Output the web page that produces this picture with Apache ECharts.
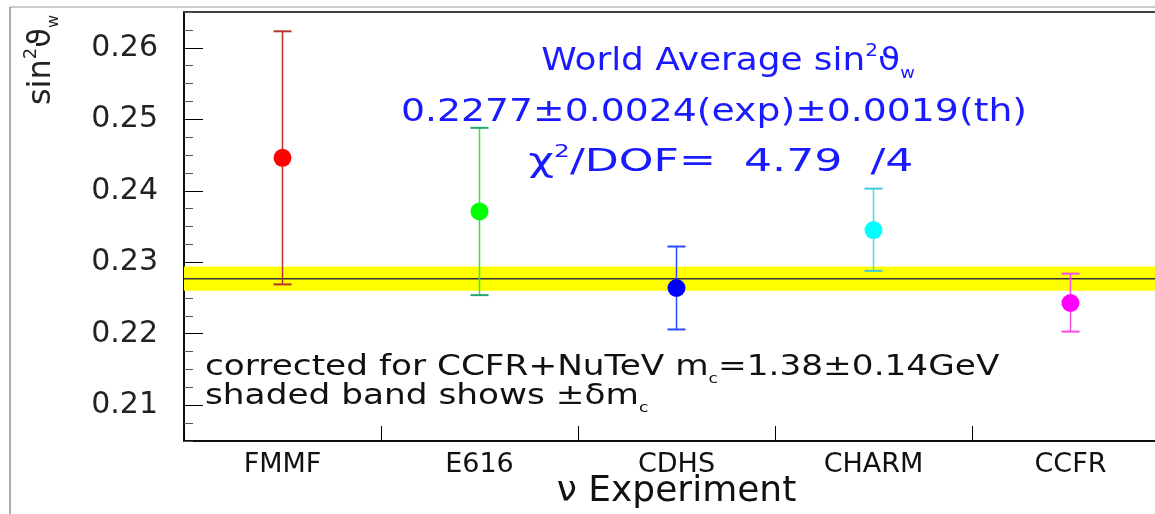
<!DOCTYPE html>
<html>
<head>
<meta charset="utf-8">
<script src="https://cdn.jsdelivr.net/npm/echarts@6/dist/echarts.min.js"></script>
<style>
  html, body { margin: 0; padding: 0; background: #fff; }
  #chart { width: 1155px; height: 514px; }
</style>
</head>
<body>
<div id="chart"></div>
<script>
// Neutrino-scattering measurements of sin^2(theta_W)
const experiments = ['FMMF', 'E616', 'CDHS', 'CHARM', 'CCFR'];
const sin2w   = [0.2446, 0.2371, 0.2264, 0.2345, 0.2243];
const errHigh = [0.0177, 0.0117, 0.0058, 0.0058, 0.0041];
const errLow  = [0.0177, 0.0117, 0.0058, 0.0057, 0.0040];
const worldAverage = 0.2277;
const bandHalfWidth = 0.0017;   // +- delta m_c
const yTickValues = [0.21, 0.22, 0.23, 0.24, 0.25, 0.26];
const yMin = 0.205, yMax = 0.265;

const pointColors = ['#ff0000', '#00ff00', '#0000ff', '#00ffff', '#ff00ff'];
const barColors   = ['#b8322c', '#2ee84a', '#2a48ff', '#3ee0ee', '#ff4ae6'];
const capColors   = ['#b8322c', '#20a878', '#2a48ff', '#3ec8dc', '#ff4ae6'];

const FONT = 'DejaVu Sans';
const BLUE = '#1a1aff';

const errData = experiments.map((e, i) => [i, sin2w[i] - errLow[i], sin2w[i] + errHigh[i]]);
const pointData = experiments.map((e, i) => [i, sin2w[i]]);
const averageData = [[worldAverage, worldAverage - bandHalfWidth, worldAverage + bandHalfWidth]];

function richSet(size, color) {
  return {
    a:   { fontFamily: FONT, fontSize: size, lineHeight: size + 8, fill: color, color: color, verticalAlign: 'middle' },
    sup: { fontFamily: FONT, fontSize: Math.round(size * 0.55), lineHeight: Math.round(size * 0.55), fill: color, color: color, verticalAlign: 'top' },
    sub: { fontFamily: FONT, fontSize: Math.round(size * 0.5), lineHeight: Math.round(size * 0.5), fill: color, color: color, verticalAlign: 'bottom' }
  };
}

const chart = echarts.init(document.getElementById('chart'), null, { renderer: 'canvas' });

chart.setOption({
  backgroundColor: '#fff',
  animation: false,
  grid: {
    left: 184, right: -14, top: 12, bottom: 73,
    show: true, borderColor: '#000', borderWidth: 1.5,
    outerBoundsMode: 'none'
  },
  xAxis: {
    type: 'category',
    data: experiments,
    boundaryGap: true,
    axisLine: { lineStyle: { color: '#000', width: 1.5 } },
    axisTick: { show: true, inside: true, length: 15, alignWithLabel: false, lineStyle: { color: '#000', width: 1 } },
    axisLabel: { fontFamily: FONT, fontSize: 27, color: '#111', margin: 10 },
    splitLine: { show: false },
    name: 'ν Experiment',
    nameLocation: 'middle',
    nameGap: 51,
    nameMoveOverlap: false,
    nameTextStyle: { fontFamily: FONT, fontSize: 36, color: '#111', verticalAlign: 'middle' }
  },
  yAxis: [
    {
      // minor ticks every 0.0025
      type: 'value', min: yMin, max: yMax, interval: 0.0025,
      axisLine: { show: true, lineStyle: { color: '#000', width: 1.5 } },
      axisTick: { show: true, inside: true, length: 9, lineStyle: { color: '#555', width: 1 } },
      axisLabel: { show: false },
      splitLine: { show: false }
    },
    {
      // major ticks and labels
      type: 'value', min: yMin, max: yMax, position: 'left', offset: 0,
      axisLine: { show: false },
      axisTick: { show: true, inside: true, length: 19, customValues: yTickValues, lineStyle: { color: '#000', width: 1 } },
      axisLabel: {
        show: true, customValues: yTickValues, margin: 26,
        fontFamily: FONT, fontSize: 30, color: '#222',
        formatter: v => v.toFixed(2)
      },
      splitLine: { show: false }
    }
  ],
  series: [
    {
      // world average line with its shaded band
      type: 'custom', z: 1, silent: true,
      data: averageData,
      encode: { y: [0, 1, 2] },
      renderItem: function (params, api) {
        const cs = params.coordSys;
        const yMid = api.coord([0, api.value(0)])[1];
        const yLo = api.coord([0, api.value(1)])[1];
        const yHi = api.coord([0, api.value(2)])[1];
        return {
          type: 'group',
          children: [
            { type: 'rect', shape: { x: cs.x, y: yHi, width: cs.width, height: yLo - yHi }, style: { fill: '#ffff00' } },
            { type: 'line', shape: { x1: cs.x, y1: yMid, x2: cs.x + cs.width, y2: yMid }, style: { stroke: '#333', lineWidth: 1.5 } }
          ]
        };
      }
    },
    {
      type: 'custom', z: 3, silent: true,
      data: errData,
      encode: { x: 0, y: [1, 2] },
      renderItem: function (params, api) {
        const i = params.dataIndex;
        const lo = api.coord([api.value(0), api.value(1)]);
        const hi = api.coord([api.value(0), api.value(2)]);
        const hw = 9;
        return {
          type: 'group',
          children: [
            { type: 'line', shape: { x1: hi[0], y1: hi[1], x2: lo[0], y2: lo[1] }, style: { stroke: barColors[i], lineWidth: 1.5 } },
            { type: 'line', shape: { x1: hi[0] - hw, y1: hi[1], x2: hi[0] + hw, y2: hi[1] }, style: { stroke: capColors[i], lineWidth: 2 } },
            { type: 'line', shape: { x1: lo[0] - hw, y1: lo[1], x2: lo[0] + hw, y2: lo[1] }, style: { stroke: capColors[i], lineWidth: 2 } }
          ]
        };
      }
    },
    {
      type: 'scatter', z: 4, silent: true,
      data: pointData,
      symbol: 'circle', symbolSize: 18,
      itemStyle: { color: p => pointColors[p.dataIndex], opacity: 1 }
    }
  ],
  graphic: [
    // outer frame
    { type: 'line', shape: { x1: 10, y1: 7, x2: 1155, y2: 7 }, style: { stroke: '#999', lineWidth: 1.2 } },
    { type: 'line', shape: { x1: 10, y1: 7, x2: 10, y2: 514 }, style: { stroke: '#777', lineWidth: 1.2 } },
    // y axis title
    {
      type: 'text', x: 42, y: 60, rotation: Math.PI / 2,
      style: {
        text: '{a|sin}{sup|2}{a|ϑ}{sub|w}',
        rich: richSet(32, '#222'),
        align: 'center', verticalAlign: 'middle'
      }
    },
    // world average box
    {
      type: 'text', x: 728, y: 62, scaleX: 1.12,
      style: {
        text: '{a|World Average sin}{sup|2}{a|ϑ}{sub|w}',
        rich: richSet(32, BLUE),
        align: 'center', verticalAlign: 'middle'
      }
    },
    {
      type: 'text', x: 714, y: 113, scaleX: 1.18,
      style: {
        text: '{a|0.2277±0.0024(exp)±0.0019(th)}',
        rich: richSet(32, BLUE),
        align: 'center', verticalAlign: 'middle'
      }
    },
    {
      type: 'text', x: 721, y: 163, scaleX: 1.38,
      style: {
        text: '{a|χ}{sup|2}{a|/DOF=  4.79  /4}',
        rich: richSet(32, BLUE),
        align: 'center', verticalAlign: 'middle'
      }
    },
    // correction notes
    {
      type: 'text', x: 205, y: 368, scaleX: 1.225,
      style: {
        text: '{a|corrected for CCFR+NuTeV m}{sub|c}{a|=1.38±0.14GeV}',
        rich: richSet(28, '#111'),
        align: 'left', verticalAlign: 'middle'
      }
    },
    {
      type: 'text', x: 205, y: 397, scaleX: 1.225,
      style: {
        text: '{a|shaded band shows ±δm}{sub|c}',
        rich: richSet(28, '#111'),
        align: 'left', verticalAlign: 'middle'
      }
    }
  ]
});
</script>
</body>
</html>
